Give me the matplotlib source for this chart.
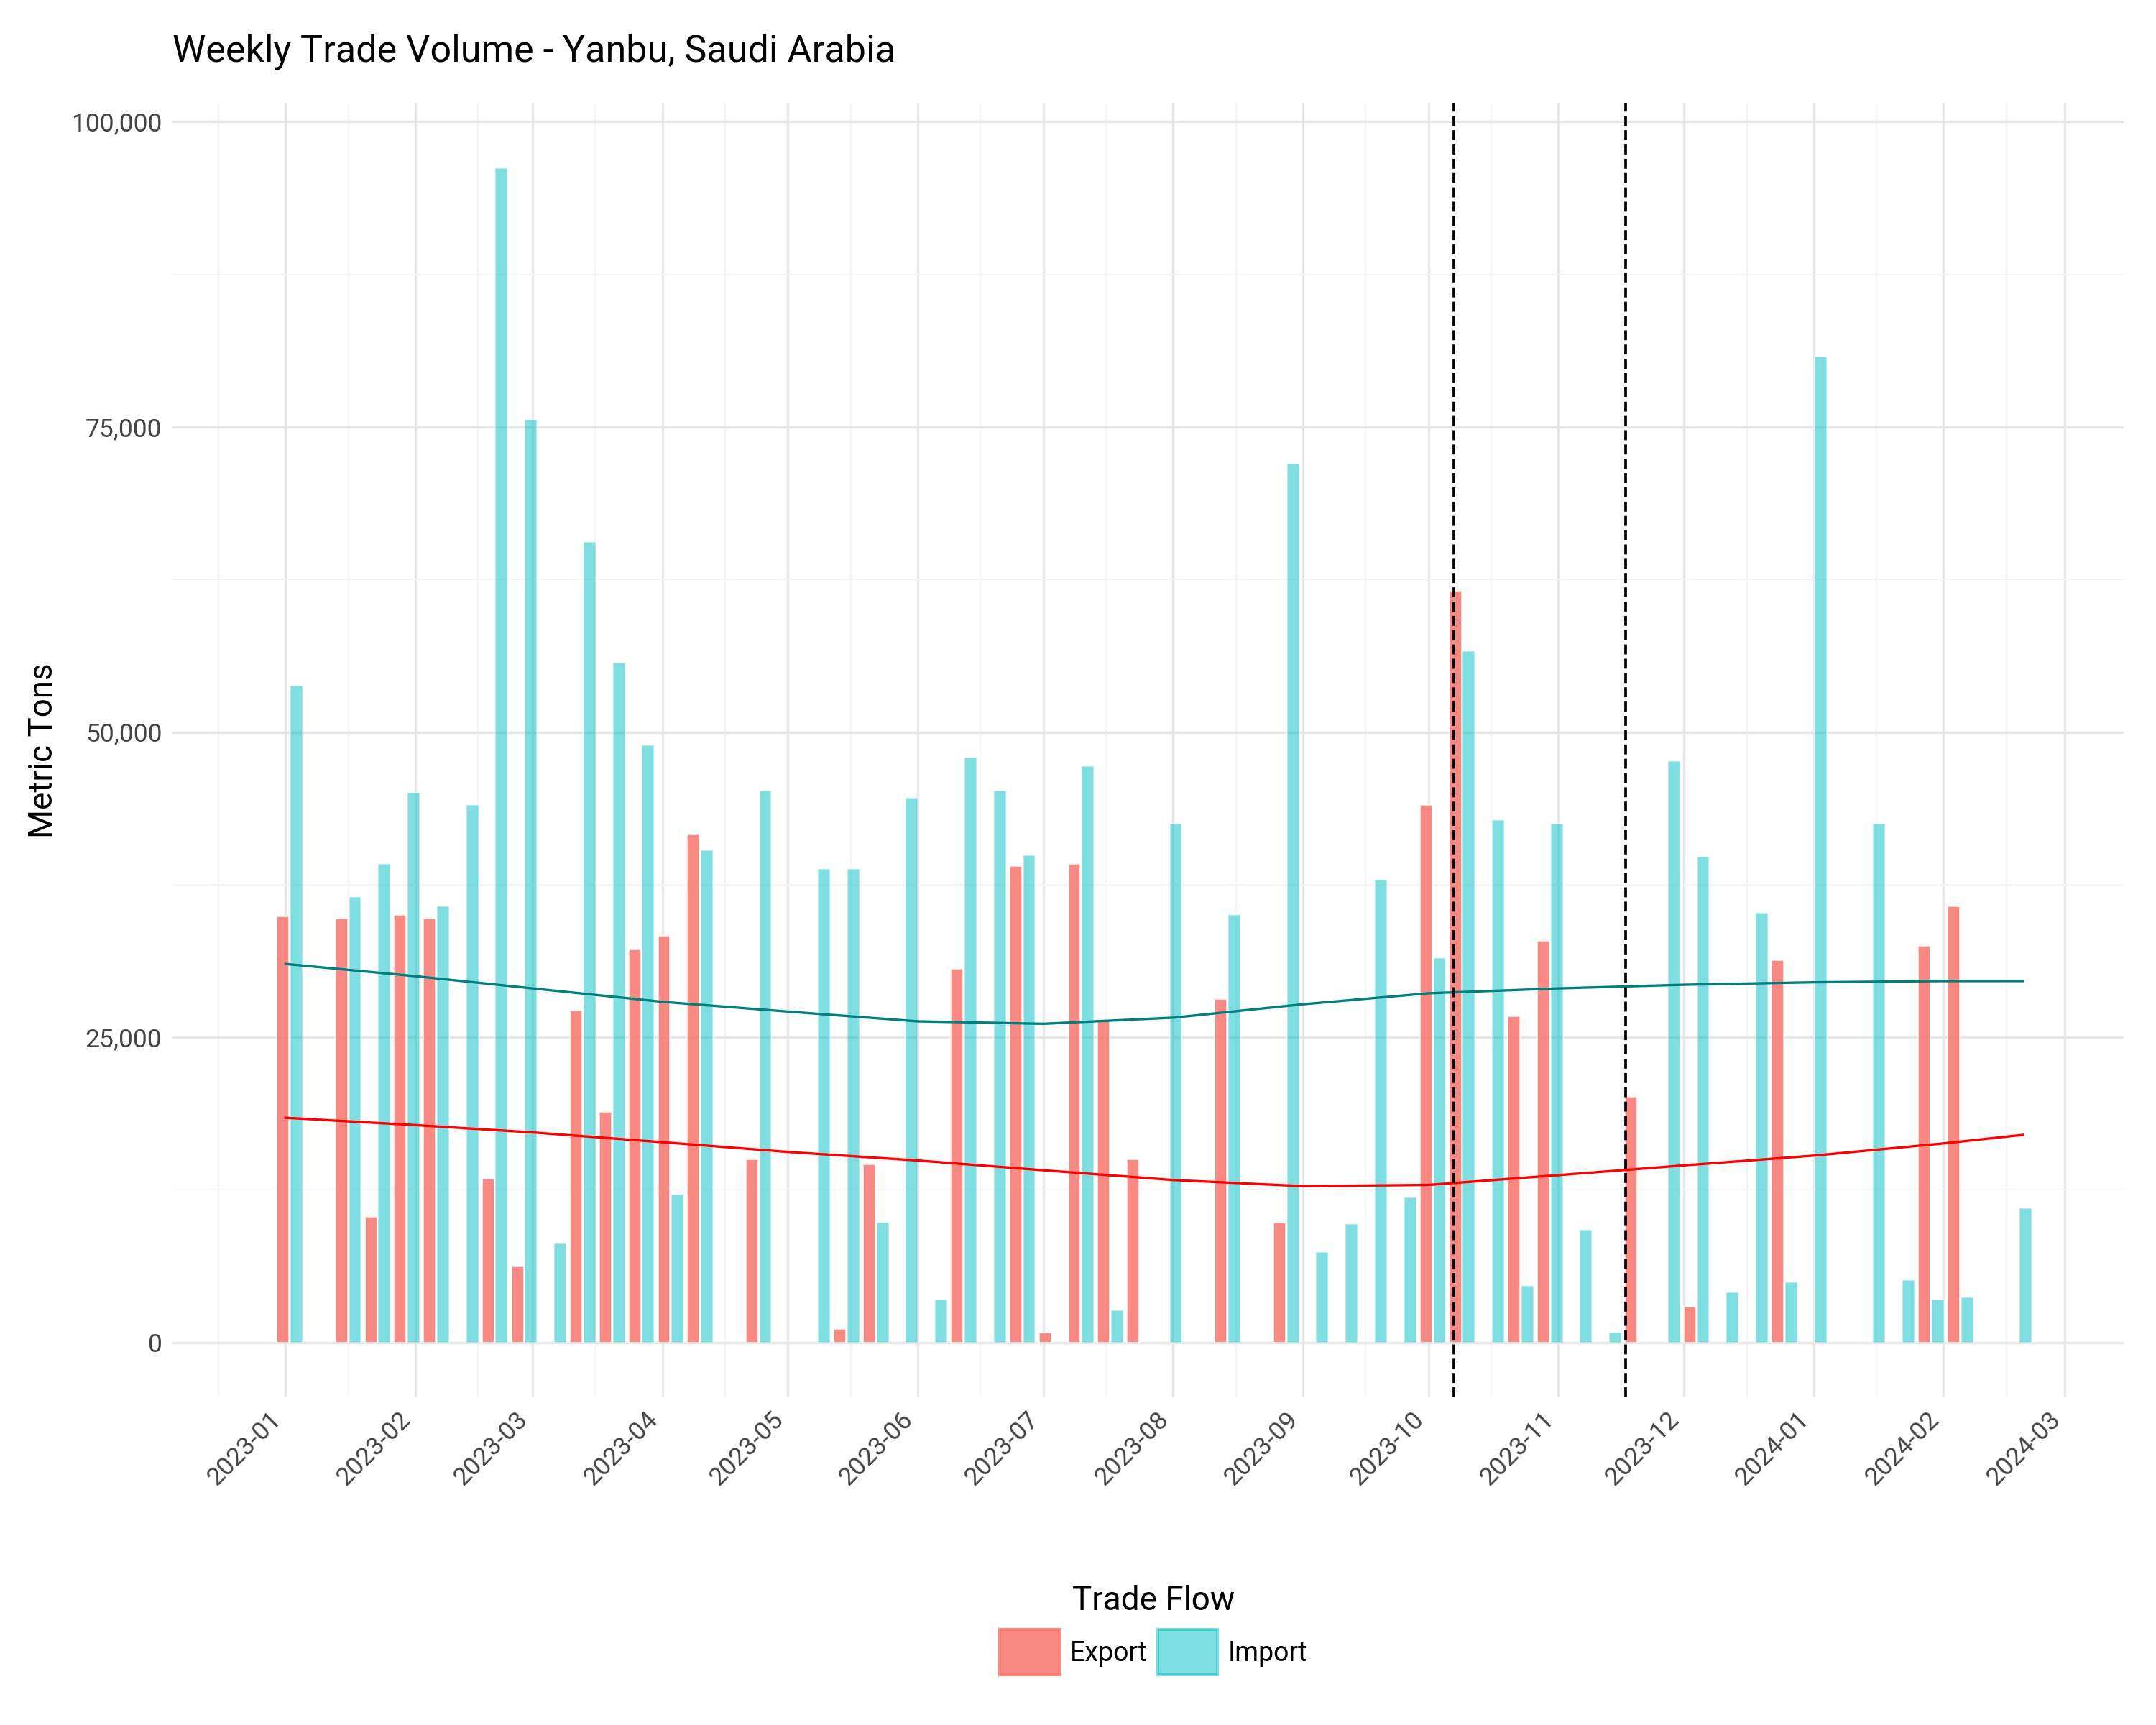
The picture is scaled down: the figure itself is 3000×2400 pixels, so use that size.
import numpy as np
import pandas as pd
import matplotlib.pyplot as plt
import matplotlib.dates as mdates
from matplotlib.ticker import FuncFormatter, MultipleLocator
from matplotlib.patches import Patch

plt.rcParams['font.family'] = ['Roboto', 'DejaVu Sans']

# weekly values in metric tons (week index from 2023-01-02), NaN = no shipment
export_vals = [34900, np.nan, 34700, 10300, 35000, 34700, np.nan, 13400, 6200, np.nan,
               27200, 18900, 32200, 33300, 41600, np.nan, 15000, np.nan, np.nan, 1100,
               14600, np.nan, np.nan, 30600, np.nan, 39000, 800, 39200, 26400, 15000,
               np.nan, np.nan, 28100, np.nan, 9800, np.nan, np.nan, np.nan, np.nan, 44000,
               61600, np.nan, 26700, 32900, np.nan, np.nan, 20100, np.nan, 2900, np.nan,
               np.nan, 31300, np.nan, np.nan, np.nan, np.nan, 32500, 35700, np.nan, np.nan]
import_vals = [53800, np.nan, 36500, 39200, 45000, 35700, 44000, 96200, 75600, 8100,
               65600, 55700, 48900, 12100, 40300, np.nan, 45200, np.nan, 38800, 38800,
               9800, 44600, 3500, 47900, 45200, 39900, np.nan, 47200, 2600, np.nan,
               42500, np.nan, 35000, np.nan, 72000, 7400, 9700, 37900, 11900, 31500,
               56600, 42800, 4600, 42500, 9200, 800, np.nan, 47600, 39800, 4100,
               35200, 4900, 80800, np.nan, 42500, 5100, 3500, 3700, np.nan, 11000]
weeks = pd.date_range("2023-01-02", periods=len(export_vals), freq="7D")

# smoothed trend lines
trend_dates = pd.to_datetime(["2023-01-01", "2023-02-01", "2023-03-01", "2023-04-01", "2023-05-01",
                              "2023-06-01", "2023-07-01", "2023-08-01", "2023-09-01", "2023-10-01",
                              "2023-11-01", "2023-12-01", "2024-01-01", "2024-02-01", "2024-02-20"])
export_trend = [18400, 17800, 17200, 16400, 15600, 14900, 14100, 13300, 12800, 12900,
                13700, 14500, 15300, 16300, 17000]
import_trend = [31000, 30000, 29000, 27900, 27100, 26300, 26100, 26600, 27700, 28600,
                29000, 29300, 29500, 29600, 29600]

events = pd.to_datetime(["2023-10-07", "2023-11-17"])

exp_color = "#F8766D"
imp_color = "#00BFC4"

fig, ax = plt.subplots(figsize=(10, 8), dpi=300)
off = pd.Timedelta(days=1.6)
w = 2.9
ax.bar(weeks - off, export_vals, width=w, color=exp_color, alpha=0.85, edgecolor="white", linewidth=0.4, zorder=2)
ax.bar(weeks + off, import_vals, width=w, color=imp_color, alpha=0.5, edgecolor="white", linewidth=0.4, zorder=2)
ax.plot(trend_dates, export_trend, color="red", linewidth=0.8, zorder=3)
ax.plot(trend_dates, import_trend, color="#007F7F", linewidth=0.8, zorder=3)
for d in events:
    ax.axvline(d, color="black", linestyle="--", linewidth=0.9, zorder=4)

ax.set_ylim(-4500, 101500)
ax.set_xlim(pd.Timestamp("2022-12-05"), pd.Timestamp("2024-03-15"))
ax.yaxis.set_major_locator(MultipleLocator(25000))
ax.yaxis.set_minor_locator(MultipleLocator(12500))
ax.yaxis.set_major_formatter(FuncFormatter(lambda v, p: f"{int(v):,}"))
ax.xaxis.set_major_locator(mdates.MonthLocator())
ax.xaxis.set_minor_locator(mdates.MonthLocator(bymonthday=16))
ax.xaxis.set_major_formatter(mdates.DateFormatter("%Y-%m"))
plt.setp(ax.get_xticklabels(), rotation=45, ha="right")
ax.tick_params(which="both", length=0, labelsize=8.5, colors="#444444")
ax.grid(which="major", color="#e6e6e6", linewidth=0.8, zorder=0)
ax.grid(which="minor", color="#f4f4f4", linewidth=0.5, zorder=0)
ax.set_axisbelow(True)
for s in ax.spines.values():
    s.set_visible(False)

ax.set_title("Weekly Trade Volume - Yanbu, Saudi Arabia", loc="left", fontsize=12.5, pad=14)
ax.set_ylabel("Metric Tons", fontsize=11)

handles = [Patch(color=exp_color, alpha=0.85), Patch(color=imp_color, alpha=0.5)]
fig.legend(handles, ["Export", "Import"], title="Trade Flow", loc="lower center",
           bbox_to_anchor=(0.535, 0.015), ncol=2, frameon=False, fontsize=9,
           title_fontsize=11, handlelength=2.2, handleheight=2.2, columnspacing=0.4,
           handletextpad=0.4)

plt.subplots_adjust(left=0.08, right=0.985, top=0.94, bottom=0.19)
fig.savefig("out.png", dpi=300)
